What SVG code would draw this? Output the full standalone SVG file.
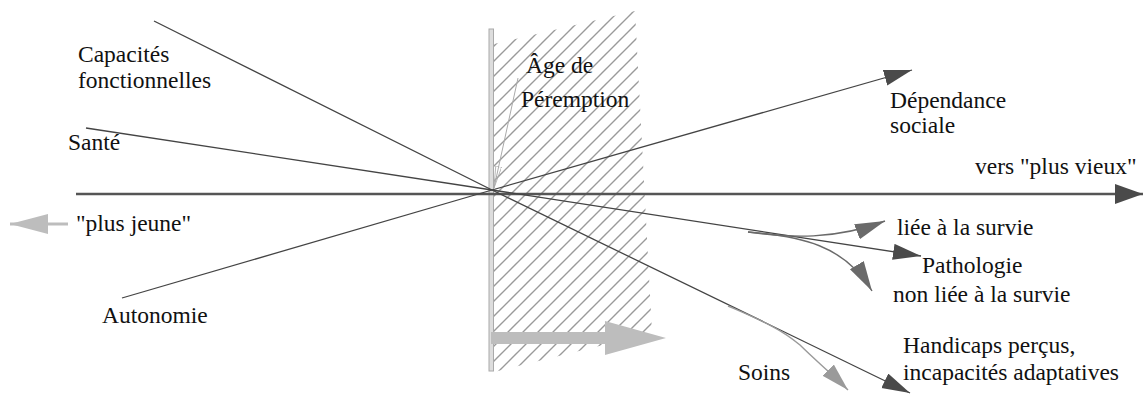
<svg xmlns="http://www.w3.org/2000/svg" width="1145" height="394" viewBox="0 0 1145 394">
<style>
.lbl{font-family:'Liberation Serif','Times New Roman',serif !important;font-size:23.5px !important;fill:#111}
.ray{stroke:#444;stroke-width:1.3;fill:none}
.curve{stroke:#6a6a6a;stroke-width:1.4;fill:none}
</style>
<defs>
<pattern id="hatch" patternUnits="userSpaceOnUse" width="15" height="15">
<path d="M0,15 L15,0 M-3.75,3.75 L3.75,-3.75 M11.25,18.75 L18.75,11.25" stroke="#9a9a9a" stroke-width="1.4"/>
</pattern>
<marker id="mDark" markerUnits="userSpaceOnUse" markerWidth="30" markerHeight="18" refX="28" refY="8" orient="auto"><path d="M0,0 L28,8 L0,16 z" fill="#4a4a4a"/></marker>
<marker id="mAxis" markerUnits="userSpaceOnUse" markerWidth="30" markerHeight="22" refX="28" refY="10" orient="auto"><path d="M0,0 L28,10 L0,20 z" fill="#4a4a4a"/></marker>
<marker id="mMid" markerUnits="userSpaceOnUse" markerWidth="32" markerHeight="18" refX="30" refY="8" orient="auto"><path d="M0,0 L30,8 L0,16 z" fill="#6a6a6a"/></marker>
<marker id="mLight" markerUnits="userSpaceOnUse" markerWidth="30" markerHeight="18" refX="28" refY="8" orient="auto"><path d="M0,0 L28,8 L0,16 z" fill="#9a9a9a"/></marker>
<marker id="mThin" markerUnits="userSpaceOnUse" markerWidth="24" markerHeight="8" refX="22" refY="3" orient="auto"><path d="M0,0 L22,3 L0,6 z" fill="none" stroke="#aaa" stroke-width="0.8"/></marker>
</defs>

<g id="hatched-zone">
<polygon points="494,44 635,11 652,333 494,372" fill="url(#hatch)"/>
</g>
<g id="peremption-bar">
<rect x="489" y="29" width="4.5" height="342" fill="#ddd" stroke="#aaa" stroke-width="1"/>
</g>
<g id="time-arrow">
<polygon points="491,332 605,332 605,321 666,338 605,355 605,344 491,344" fill="#bdbdbd"/>
</g>

<g id="connectors">
<line x1="76" y1="194" x2="1143" y2="194" stroke="#555" stroke-width="2.5" marker-end="url(#mAxis)"/>
<line x1="68" y1="224" x2="10" y2="224" stroke="#bdbdbd" stroke-width="3"/>
<polygon points="10,224 48,214 48,234" fill="#bdbdbd"/>
<line class="ray" x1="154" y1="21" x2="492" y2="190"/>
<line class="ray" x1="86" y1="128" x2="492" y2="190"/>
<line class="ray" x1="122" y1="298" x2="492" y2="190"/>
<line class="ray" x1="492" y1="190" x2="912" y2="70" marker-end="url(#mDark)"/>
<line class="ray" x1="492" y1="190" x2="921" y2="256" marker-end="url(#mDark)"/>
<line class="ray" x1="492" y1="190" x2="910" y2="393" marker-end="url(#mDark)"/>
<path class="curve" d="M748,232 C790,238 835,240 885,221" marker-end="url(#mMid)"/>
<path class="curve" d="M748,232 C800,236 845,245 872,291" marker-end="url(#mMid)"/>
<path d="M728,306 C760,320 780,328 800,345 C815,360 830,372 848,390" fill="none" stroke="#9a9a9a" stroke-width="1.4" marker-end="url(#mLight)"/>
<line x1="518" y1="78" x2="494" y2="188" stroke="#aaa" stroke-width="1" marker-end="url(#mThin)"/>
</g>

<g font-family="Liberation Serif, Times New Roman, serif" font-size="23.5">
<g id="label-capacites"><text class="lbl" x="78" y="62">Capacités</text><text class="lbl" x="78" y="88">fonctionnelles</text></g>
<g id="label-sante"><text class="lbl" x="68" y="150">Santé</text></g>
<g id="label-jeune"><text class="lbl" x="76" y="231">"plus jeune"</text></g>
<g id="label-autonomie"><text class="lbl" x="102" y="323">Autonomie</text></g>
<g id="label-age"><text class="lbl" x="526" y="73">Âge de</text><text class="lbl" x="521" y="107">Péremption</text></g>
<g id="label-dependance"><text class="lbl" x="890" y="108">Dépendance</text><text class="lbl" x="890" y="133">sociale</text></g>
<g id="label-vieux"><text class="lbl" x="975" y="174">vers "plus vieux"</text></g>
<g id="label-liee"><text class="lbl" x="897" y="235">liée à la survie</text></g>
<g id="label-pathologie"><text class="lbl" x="922" y="273">Pathologie</text><text class="lbl" x="893" y="302">non liée à la survie</text></g>
<g id="label-handicaps"><text class="lbl" x="903" y="353">Handicaps perçus,</text><text class="lbl" x="903" y="380">incapacités adaptatives</text></g>
<g id="label-soins"><text class="lbl" x="738" y="380">Soins</text></g>
</g>
</svg>
